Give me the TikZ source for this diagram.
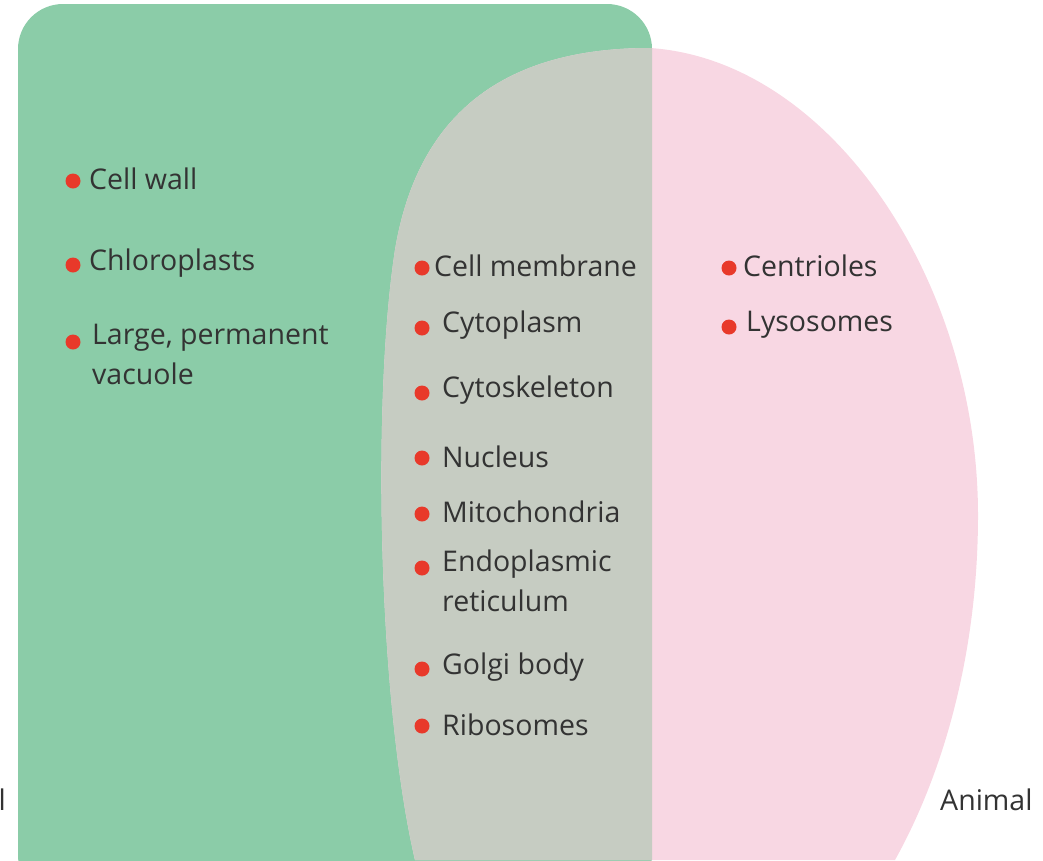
\documentclass[tikz,border=0pt]{standalone}
\usepackage{fontspec}
\setmainfont{Open Sans}
\definecolor{plant}{HTML}{8BCCA8}
\definecolor{animal}{HTML}{F8D7E3}
\definecolor{both}{HTML}{C6CCC2}
\definecolor{dot}{HTML}{E8392A}
\definecolor{txt}{HTML}{333333}
\begin{document}
\begin{tikzpicture}[x=1pt,y=-1pt,
  lbl/.style={anchor=west,inner sep=0pt,text=txt,font=\fontsize{28.5}{40}\selectfont,align=left},
  bul/.style={circle,fill=dot,inner sep=0pt,minimum size=15pt}]
\useasboundingbox (0,0) rectangle (1043,860);
\fill[plant,rounded corners=45pt] (18,4) rectangle (652,900);
\def\animalpath{(415,860) .. controls (378,700) and (372,400) .. (395,250) .. controls (420,100) and (520,48) .. (650,48) .. controls (830,60) and (978,280) .. (978,515) .. controls (978,650) and (945,770) .. (895,860) -- cycle}
\fill[animal] \animalpath;
\begin{scope}
\clip (0,0) rectangle (652,860);
\fill[both] \animalpath;
\end{scope}
% plant
\node[bul] (b1) at (73,181) {}; \node[lbl] (t1) at (89,179) {Cell wall};
\node[bul] (b2) at (73,265) {}; \node[lbl] (t2) at (89,263) {Chloroplasts};
\node[bul] (b3) at (73,342) {}; \node[lbl,anchor=north west] (t3) at (92,324) {Large, permanent\\vacuole};
% both
\node[bul] (m1) at (422,268) {}; \node[lbl] (n1) at (434,266) {Cell membrane};
\node[bul] (m2) at (422,328) {}; \node[lbl] (n2) at (442,325) {Cytoplasm};
\node[bul] (m3) at (422,393) {}; \node[lbl] (n3) at (442,390) {Cytoskeleton};
\node[bul] (m4) at (422,458) {}; \node[lbl] (n4) at (442,457) {Nucleus};
\node[bul] (m5) at (422,514) {}; \node[lbl] (n5) at (442,512) {Mitochondria};
\node[bul] (m6) at (422,568) {}; \node[lbl,anchor=north west] (n6) at (442,550) {Endoplasmic\\reticulum};
\node[bul] (m7) at (422,669) {}; \node[lbl] (n7) at (442,667) {Golgi body};
\node[bul] (m8) at (422,726) {}; \node[lbl] (n8) at (442,725) {Ribosomes};
% animal
\node[bul] (a1) at (729,268) {}; \node[lbl] (c1) at (743,266) {Centrioles};
\node[bul] (a2) at (729,327) {}; \node[lbl] (c2) at (746,325) {Lysosomes};
% labels
\node[lbl,anchor=east] (pl) at (6,800) {Plant cell};
\node[lbl] (an) at (940,800) {Animal};
\end{tikzpicture}
\end{document}
